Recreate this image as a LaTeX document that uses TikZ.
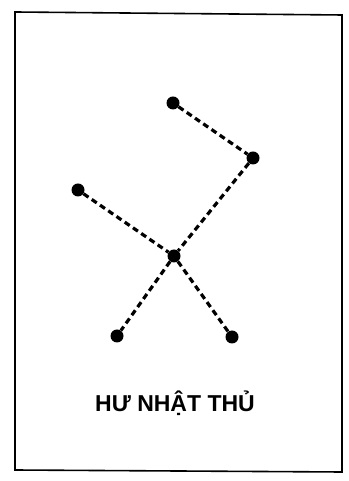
\documentclass[tikz,border=0pt]{standalone}
\usepackage{fontspec}
\setmainfont{Liberation Sans}
\begin{document}
\begin{tikzpicture}[x=1pt,y=1pt,
  star/.style={circle,fill=black,inner sep=0pt,minimum size=13pt},
  link/.style={line width=3.2pt,dash pattern=on 6pt off 4pt}]
\useasboundingbox (0,0) rectangle (348,481);
\draw[line width=1.6pt] (15,469) -- (342,466) -- (342,9) -- (15,11) -- cycle;
\node[star] (a) at (173,378) {};
\node[star] (b) at (253,323) {};
\node[star] (c) at (78,291) {};
\node[star] (d) at (174,225) {};
\node[star] (e) at (117,145) {};
\node[star] (f) at (232,144) {};
\draw[link] (a) -- (b);
\draw[link] (b) -- (d);
\draw[link] (c) -- (d);
\draw[link] (d) -- (e);
\draw[link] (d) -- (f);
\node (t) at (175,78) {\fontsize{23}{27}\selectfont\bfseries HƯ NHẬT THỦ};
\end{tikzpicture}
\end{document}
